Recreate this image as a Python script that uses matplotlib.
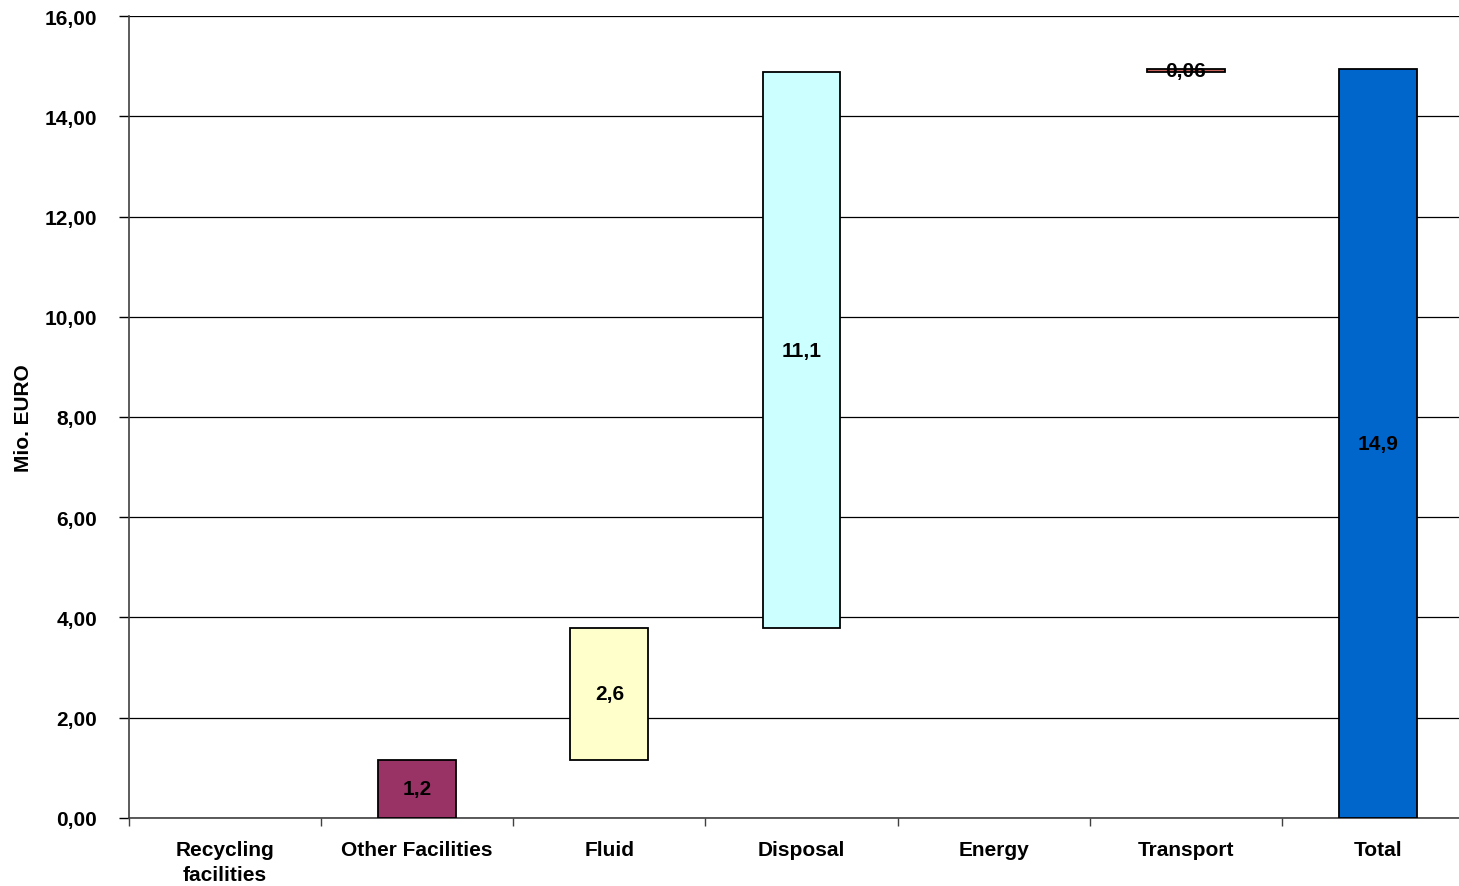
import numpy as np
import matplotlib
matplotlib.use('Agg')
import matplotlib.pyplot as plt
from matplotlib.ticker import FuncFormatter

categories = ['Recycling\nfacilities', 'Other Facilities', 'Fluid', 'Disposal', 'Energy', 'Transport', 'Total']
values = [0.0, 1.16, 2.63, 11.09, 0.0, 0.06, 14.94]
bar_labels = ['', '1,2', '2,6', '11,1', '', '0,06', '14,9']
colors = ['#993366', '#993366', '#FFFFCC', '#CCFFFF', '#FFFFCC', '#C8625C', '#0066CC']

plt.rcParams['font.family'] = ['Liberation Sans', 'DejaVu Sans']
plt.rcParams['font.weight'] = 'bold'

# waterfall: every step starts where the previous one ended, total from zero
bottoms = [float(b) for b in np.concatenate([[0], np.cumsum(values[:-2])])] + [0.0]

fig = plt.figure(figsize=(14.59, 8.87), dpi=100)
# plot area runs past the right edge of the picture, as in the reference
ax = fig.add_axes([0.0884, 0.0767, 0.9219, 0.9041])

x = np.arange(len(categories))
bars = ax.bar(x, values, bottom=bottoms, width=0.405, color=colors,
              edgecolor='black', linewidth=1.3, zorder=3)

for i, b in enumerate(bars):
    if not bar_labels[i]:
        b.set_visible(False)
        continue
    ax.text(x[i], bottoms[i] + values[i] / 2, bar_labels[i], ha='center', va='center',
            fontsize=15, fontweight='bold', zorder=4)

ax.set_xlim(-0.5, len(categories) - 0.5)
ax.set_ylim(0, 16)
ax.set_yticks(np.arange(0, 17, 2))
ax.yaxis.set_major_formatter(FuncFormatter(lambda v, p: f'{v:.2f}'.replace('.', ',')))
ax.yaxis.grid(True, color='black', linewidth=0.9, zorder=0)
ax.set_axisbelow(True)

ax.set_xticks(x)
ax.set_xticklabels(categories, fontsize=15, fontweight='bold', linespacing=1.4)
ax.set_xticks(np.arange(-0.5, len(categories) - 0.5, 1), minor=True)
ax.tick_params(axis='x', which='major', length=0, pad=16)
ax.tick_params(axis='x', which='minor', length=6, width=1, color='#404040')
ax.tick_params(axis='y', length=7, width=1, labelsize=15, pad=16)
for lab in ax.get_yticklabels():
    lab.set_fontweight('bold')

ax.spines['top'].set_visible(False)
ax.spines['right'].set_visible(False)
ax.spines['left'].set_color('#404040')
ax.spines['bottom'].set_color('#404040')
ax.spines['left'].set_linewidth(1.2)
ax.spines['bottom'].set_linewidth(1.2)

ax.set_ylabel('Mio. EURO', fontsize=15, fontweight='bold')
ax.yaxis.set_label_coords(-0.0714, 0.5)

fig.savefig('out.png', dpi=100)
